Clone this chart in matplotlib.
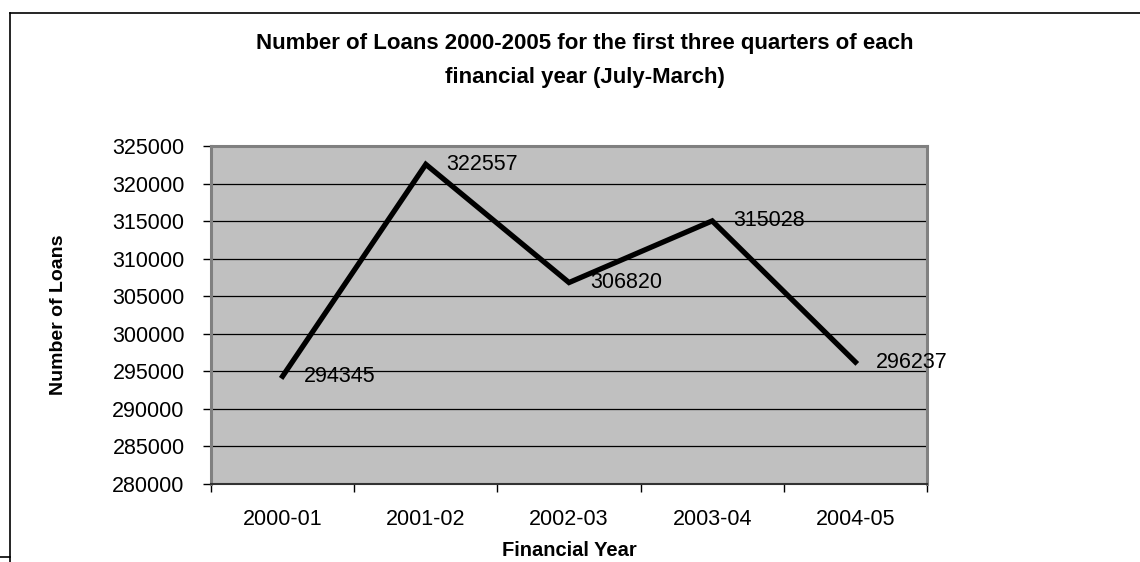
import numpy as np
from matplotlib import pyplot as plt
from matplotlib.lines import Line2D

plt.rcParams['font.family'] = ['Liberation Sans', 'DejaVu Sans']

years = ['2000-01', '2001-02', '2002-03', '2003-04', '2004-05']
loans = [294345, 322557, 306820, 315028, 296237]
yticks = [280000, 285000, 290000, 295000, 300000, 305000, 310000, 315000, 320000, 325000]

fig = plt.figure(figsize=(11.4, 5.62), dpi=100)
ax = fig.add_axes([211 / 1140, 78 / 562, 716 / 1140, 338 / 562])
ax.set_facecolor('#c0c0c0')

x = np.arange(len(years))
ax.plot(x, loans, color='black', lw=3.8, solid_joinstyle='miter', zorder=3)

# data labels right of each point
for xi, v in zip(x, loans):
    ax.annotate(str(v), (xi, v), xytext=(15, 0), textcoords='offset points',
                ha='left', va='center', fontsize=15.5, clip_on=False, zorder=4)

ax.set_xlim(-0.5, len(years) - 0.5)
ax.set_ylim(yticks[0], yticks[-1])
ax.set_yticks(yticks)
ax.set_yticklabels([str(t) for t in yticks], fontsize=15.5)
ax.tick_params(axis='y', direction='out', length=6, width=1, pad=13, color='black')

ax.set_xticks(x)
ax.set_xticklabels(years, fontsize=15.5)
ax.tick_params(axis='x', which='major', length=0, pad=18)
ax.set_xticks(np.arange(-0.5, len(years)), minor=True)
ax.tick_params(axis='x', which='minor', direction='out', length=6, width=1, color='black')

for t in yticks[1:-1]:
    ax.axhline(t, color='black', lw=0.9, zorder=1)

for s in ['left', 'top', 'right']:
    ax.spines[s].set_color('#808080')
    ax.spines[s].set_linewidth(2.2)
ax.spines['bottom'].set_color('#333333')
ax.spines['bottom'].set_linewidth(1.5)

ax.set_ylabel('Number of Loans', fontsize=14, fontweight='bold')
ax.yaxis.set_label_coords((67 - 211) / 716, 0.5)
ax.set_xlabel('Financial Year', fontsize=14.5, fontweight='bold', va='center')
ax.xaxis.set_label_coords(0.5, (484 - 551) / 338)

fig.text(585 / 1140, 1 - 43 / 562,
         'Number of Loans 2000-2005 for the first three quarters of each',
         ha='center', va='center', fontsize=16, fontweight='bold')
fig.text(585 / 1140, 1 - 78 / 562, 'financial year (July-March)',
         ha='center', va='center', fontsize=16, fontweight='bold')

# outer chart border
fig.add_artist(Line2D([10 / 1140, 1], [1 - 12.7 / 562, 1 - 12.7 / 562], color='black', lw=1.2))
fig.add_artist(Line2D([10 / 1140, 10 / 1140], [0, 1 - 12.7 / 562], color='black', lw=1.2))
fig.add_artist(Line2D([0, 10 / 1140], [1 - 557 / 562, 1 - 557 / 562], color='black', lw=1.2))

fig.savefig('out.png', dpi=100)
